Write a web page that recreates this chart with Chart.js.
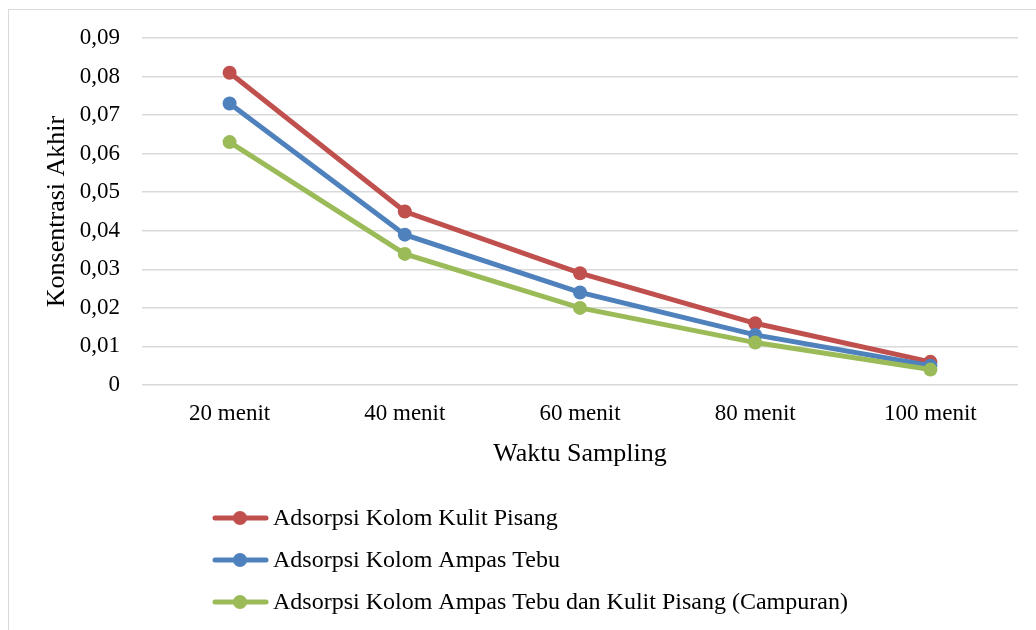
<!DOCTYPE html>
<html>
<head>
<meta charset="utf-8">
<script src="https://cdn.jsdelivr.net/npm/chart.js@4.4.0/dist/chart.umd.min.js"></script>
<style>
  html, body { margin: 0; padding: 0; background: #fff; }
  canvas { display: block; }
</style>
</head>
<body>
<canvas id="chart" width="1036" height="630"></canvas>
<script>
const labels = ["20 menit", "40 menit", "60 menit", "80 menit", "100 menit"];
const kulitPisang = [0.081, 0.045, 0.029, 0.016, 0.006];
const ampasTebu = [0.073, 0.039, 0.024, 0.013, 0.005];
const campuran = [0.063, 0.034, 0.020, 0.011, 0.004];

const seriesNames = [
    "Adsorpsi Kolom Kulit Pisang",
    "Adsorpsi Kolom Ampas Tebu",
    "Adsorpsi Kolom Ampas Tebu dan Kulit Pisang (Campuran)"
];
const colors = ["#C0504D", "#4F81BD", "#9BBB59"];

const fontFamily = "'Liberation Serif', 'Times New Roman', serif";

function makeSet(i, data, order) {
    return {
        label: seriesNames[i],
        data: data,
        borderColor: colors[i],
        backgroundColor: colors[i],
        borderWidth: 5,
        pointRadius: 7,
        pointHoverRadius: 7,
        pointBorderWidth: 0,
        tension: 0,
        order: order
    };
}

// frame and legend drawn by hand (Excel style: one entry per line)
const framePlugin = {
    id: "frame",
    beforeDraw(chart) {
        const ctx = chart.ctx;
        ctx.save();
        ctx.strokeStyle = "#d9d9d9";
        ctx.lineWidth = 1;
        ctx.strokeRect(8.5, 9.5, 1200, 800);
        ctx.restore();
    },
    afterDraw(chart) {
        const ctx = chart.ctx;
        const rows = [518, 560, 602];
        ctx.save();
        chart.data.datasets.forEach((ds, i) => {
            const y = rows[i];
            ctx.strokeStyle = ds.borderColor;
            ctx.lineWidth = 5;
            ctx.lineCap = "round";
            ctx.beginPath();
            ctx.moveTo(215, y);
            ctx.lineTo(266, y);
            ctx.stroke();
            ctx.fillStyle = ds.borderColor;
            ctx.beginPath();
            ctx.arc(240, y, 7, 0, Math.PI * 2);
            ctx.fill();
            ctx.fillStyle = "#000";
            ctx.font = "24px " + fontFamily;
            ctx.textBaseline = "middle";
            ctx.textAlign = "left";
            ctx.fillText(ds.label, 273, y + 1);
        });
        ctx.restore();
    }
};

new Chart(document.getElementById("chart"), {
    type: "line",
    data: {
        labels: labels,
        datasets: [
            makeSet(0, kulitPisang, 3),
            makeSet(1, ampasTebu, 2),
            makeSet(2, campuran, 1)
        ]
    },
    options: {
        responsive: false,
        animation: false,
        layout: { padding: { left: 42, right: 18, top: 38, bottom: 160 } },
        plugins: {
            legend: { display: false },
            tooltip: { enabled: false }
        },
        scales: {
            x: {
                offset: true,
                grid: { display: false, drawTicks: false },
                border: { display: false },
                ticks: {
                    color: "#000",
                    padding: 15,
                    font: { family: fontFamily, size: 23 }
                },
                title: {
                    display: true,
                    text: "Waktu Sampling",
                    color: "#000",
                    padding: 0,
                    font: { family: fontFamily, size: 26 }
                },
                afterFit(scale) {
                    scale.height = 85;
                    scale.paddingLeft = 0;
                    scale.paddingRight = 0;
                }
            },
            y: {
                min: 0,
                max: 0.09,
                grid: { color: "#d9d9d9", lineWidth: 1.5, drawTicks: false },
                border: { display: false },
                ticks: {
                    stepSize: 0.01,
                    color: "#000",
                    padding: 22,
                    font: { family: fontFamily, size: 23 },
                    callback: v => v === 0 ? "0" : v.toFixed(2).replace(".", ",")
                },
                title: {
                    display: true,
                    text: "Konsentrasi Akhir",
                    color: "#000",
                    padding: 0,
                    font: { family: fontFamily, size: 26 }
                },
                afterFit(scale) {
                    scale.width = 100;
                    scale.paddingTop = 0;
                    scale.paddingBottom = 0;
                }
            }
        }
    },
    plugins: [framePlugin]
});
</script>
</body>
</html>
